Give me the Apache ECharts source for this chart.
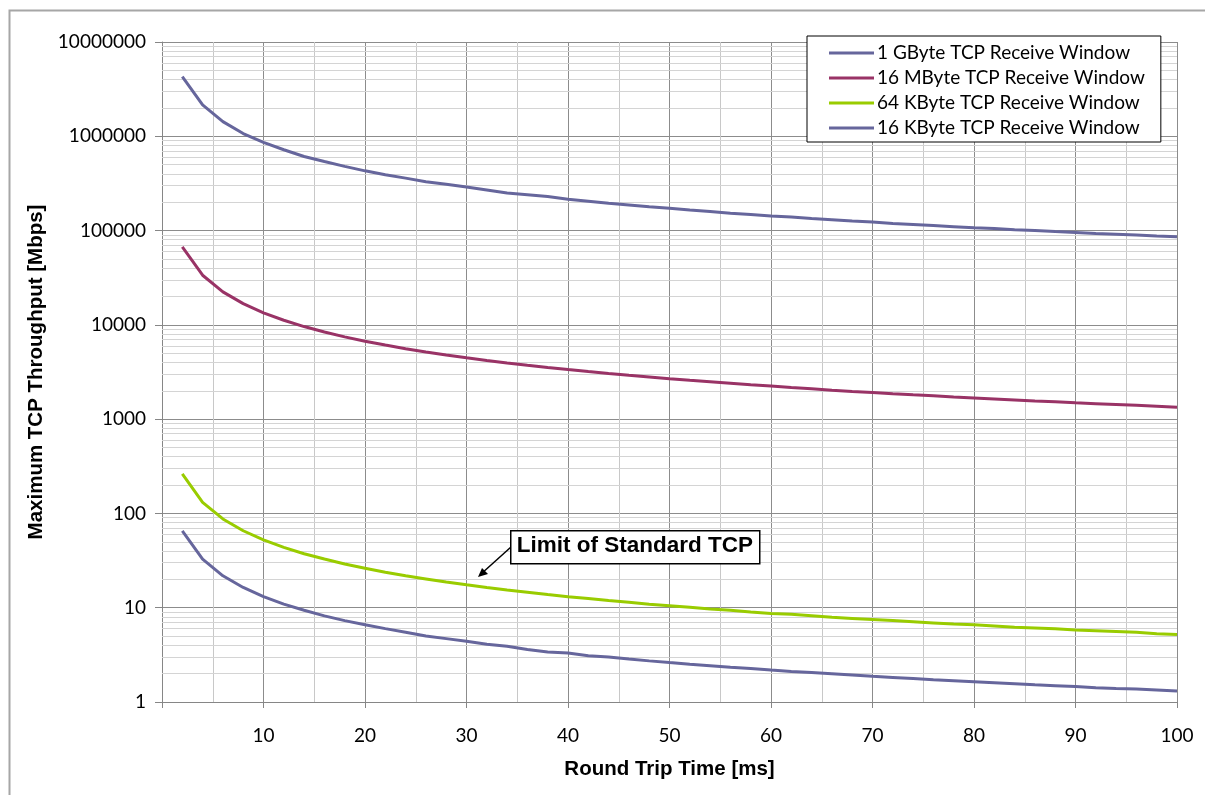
<!DOCTYPE html>
<html>
<head>
<meta charset="utf-8">
<script src="https://cdn.jsdelivr.net/npm/echarts@6/dist/echarts.min.js"></script>
<style>
  html, body { margin: 0; padding: 0; background: #fff; }
  #main { width: 1205px; height: 795px; }
</style>
</head>
<body>
<div id="main"></div>
<script>
// round trip time in ms
var rtt = [2, 4, 6, 8, 10, 12, 14, 16, 18, 20, 22, 24, 26, 28, 30, 32, 34, 36, 38, 40,
  42, 44, 46, 48, 50, 52, 54, 56, 58, 60, 62, 64, 66, 68, 70, 72, 74, 76, 78, 80,
  82, 84, 86, 88, 90, 92, 94, 96, 98, 100];

// throughput in Mbps
var gbyte1 = [4300000, 2150000, 1430000, 1070000, 860000, 720000, 610000, 540000, 480000, 430000,
  390000, 360000, 330000, 310000, 290000, 270000, 250000, 240000, 230000, 215000,
  205000, 195000, 187000, 179000, 172000, 165000, 159000, 153000, 148000, 143000,
  139000, 134000, 130000, 126000, 123000, 119000, 116000, 113000, 110000, 107000,
  105000, 102000, 100000, 97600, 95400, 93300, 91400, 89500, 87600, 85900];
var mbyte16 = [67100, 33600, 22400, 16800, 13400, 11200, 9590, 8390, 7460, 6710,
  6100, 5590, 5160, 4790, 4470, 4190, 3950, 3730, 3530, 3360,
  3200, 3050, 2920, 2800, 2680, 2580, 2490, 2400, 2310, 2240,
  2160, 2100, 2030, 1970, 1920, 1860, 1810, 1770, 1720, 1680,
  1640, 1600, 1560, 1530, 1490, 1460, 1430, 1400, 1370, 1340];
var kbyte64 = [262, 131, 87.4, 65.5, 52.4, 43.7, 37.4, 32.8, 29.1, 26.2,
  23.8, 21.8, 20.2, 18.7, 17.5, 16.4, 15.4, 14.6, 13.8, 13.1,
  12.5, 11.9, 11.4, 10.9, 10.5, 10.1, 9.7, 9.4, 9.0, 8.7,
  8.5, 8.2, 7.9, 7.7, 7.5, 7.3, 7.1, 6.9, 6.7, 6.6,
  6.4, 6.2, 6.1, 6.0, 5.8, 5.7, 5.6, 5.5, 5.3, 5.2];
var kbyte16 = [65.5, 32.8, 21.8, 16.4, 13.1, 10.9, 9.4, 8.2, 7.3, 6.6,
  6.0, 5.5, 5.0, 4.7, 4.4, 4.1, 3.9, 3.6, 3.4, 3.3,
  3.1, 3.0, 2.85, 2.73, 2.62, 2.52, 2.43, 2.34, 2.26, 2.18,
  2.11, 2.05, 1.99, 1.93, 1.87, 1.82, 1.77, 1.72, 1.68, 1.64,
  1.6, 1.56, 1.52, 1.49, 1.46, 1.42, 1.39, 1.37, 1.34, 1.31];

var seriesNames = ['1 GByte TCP Receive Window', '16 MByte TCP Receive Window',
  '64 KByte TCP Receive Window', '16 KByte TCP Receive Window'];
var seriesColors = ['#66669c', '#993366', '#99cc00', '#66669c'];
var seriesValues = [gbyte1, mbyte16, kbyte64, kbyte16];

var chartDom = document.getElementById('main');
var myChart = echarts.init(chartDom);

function pairs(vals) {
  return rtt.map(function (x, i) { return [x, vals[i]]; });
}

// minor log gridlines 2..9 in every decade
var minorLines = [];
for (var d = 1; d < 10000000; d *= 10) {
  for (var k = 2; k <= 9; k++) minorLines.push({ yAxis: d * k });
}

var series = seriesNames.map(function (name, i) {
  return {
    name: name,
    type: 'line',
    data: pairs(seriesValues[i]),
    showSymbol: false,
    symbol: 'none',
    lineStyle: { width: 3, color: seriesColors[i] },
    itemStyle: { color: seriesColors[i] },
    z: 3
  };
});
series.push({
  type: 'line',
  data: [],
  silent: true,
  z: 1,
  markLine: {
    z: 1,
    silent: true,
    symbol: ['none', 'none'],
    label: { show: false },
    lineStyle: { color: '#d4d4d4', type: 'solid', width: 1 },
    emphasis: { disabled: true },
    animation: false,
    data: minorLines
  }
});

var option = {
  animation: false,
  textStyle: { fontFamily: 'Lato' },
  grid: { left: 162, right: 28, top: 42, bottom: 93 },
  legend: {
    data: seriesNames,
    orient: 'vertical',
    left: 807,
    top: 36,
    z: 20,
    padding: [7, 16, 4, 22],
    itemGap: 5,
    itemWidth: 45,
    itemHeight: 3,
    icon: 'rect',
    backgroundColor: '#fff',
    borderColor: '#000',
    borderWidth: 1,
    textStyle: { fontFamily: 'Lato', fontSize: 19, lineHeight: 20, color: '#000', padding: [0, 0, 0, -2] }
  },
  xAxis: {
    type: 'value',
    min: 0,
    max: 100,
    interval: 10,
    name: 'Round Trip Time [ms]',
    nameLocation: 'middle',
    nameGap: 57,
    nameTextStyle: { fontFamily: 'Arial, Liberation Sans', fontWeight: 'bold', fontSize: 20.5, color: '#000' },
    axisLine: { show: true, lineStyle: { color: '#868686', width: 1 } },
    axisTick: { show: true, length: 6, lineStyle: { color: '#868686' } },
    axisLabel: {
      margin: 24,
      fontSize: 19,
      color: '#000',
      formatter: function (v) { return v === 0 ? '' : v; }
    },
    splitLine: { show: true, lineStyle: { color: '#8c8c8c', width: 1 } },
    minorTick: { show: false, splitNumber: 2 },
    minorSplitLine: { show: true, lineStyle: { color: '#c8c8c8', width: 1 } }
  },
  yAxis: {
    type: 'log',
    logBase: 10,
    min: 1,
    max: 10000000,
    name: 'Maximum TCP Throughput [Mbps]',
    nameLocation: 'middle',
    nameGap: 115,
    nameRotate: 90,
    nameTextStyle: { fontFamily: 'Arial, Liberation Sans', fontWeight: 'bold', fontSize: 20.5, color: '#000' },
    axisLine: { show: true, lineStyle: { color: '#868686', width: 1 } },
    axisTick: { show: true, length: 7, lineStyle: { color: '#868686' } },
    axisLabel: {
      margin: 16,
      fontSize: 19,
      color: '#000',
      formatter: function (v) { return String(Math.round(v)); }
    },
    splitLine: { show: true, lineStyle: { color: '#8c8c8c', width: 1 } }
  },
  graphic: [
    {
      type: 'rect',
      left: 7,
      top: 8,
      shape: { width: 1400, height: 1000 },
      style: { fill: 'none', stroke: '#a6a6a6', lineWidth: 2 },
      z: 0,
      silent: true
    },
    {
      type: 'line',
      shape: { x1: 511, y1: 547, x2: 481, y2: 574 },
      style: { stroke: '#000', lineWidth: 1.5 },
      z: 10
    },
    {
      type: 'polygon',
      shape: { points: [[478, 577], [482, 568], [488, 574]] },
      style: { fill: '#000' },
      z: 10
    },
    {
      type: 'group',
      left: 510,
      top: 530,
      z: 10,
      children: [
        {
          type: 'rect',
          z: 10,
          shape: { width: 249, height: 33 },
          style: { fill: '#fff', stroke: '#000', lineWidth: 1.5 }
        },
        {
          type: 'text',
          z: 11,
          left: 6,
          top: 4,
          style: {
            text: 'Limit of Standard TCP',
            font: 'bold 22.5px Arial, "Liberation Sans"',
            fill: '#000'
          }
        }
      ]
    }
  ],
  series: series
};

option && myChart.setOption(option);
</script>
</body>
</html>
